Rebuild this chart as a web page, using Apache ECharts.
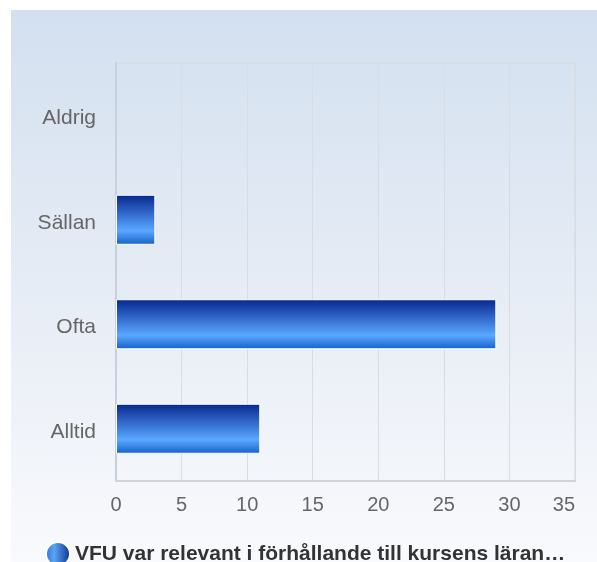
<!DOCTYPE html>
<html>
<head>
<meta charset="utf-8">
<script src="https://cdn.jsdelivr.net/npm/echarts@6/dist/echarts.min.js"></script>
<style>
html,body{margin:0;padding:0;background:#fff;overflow:hidden;}
#chart{position:absolute;left:11px;top:10px;width:586px;height:552px;}
</style>
</head>
<body>
<div id="chart"></div>
<script>
const categories = ['Aldrig', 'Sällan', 'Ofta', 'Alltid'];
const values = [0, 3, 29, 11];
const seriesName = 'VFU var relevant i förhållande till kursens läran…';
const xTicks = [0, 5, 10, 15, 20, 25, 30, 35];

const chart = echarts.init(document.getElementById('chart'));
chart.setOption({
  animation: false,
  backgroundColor: {
    type: 'linear', x: 0, y: 0, x2: 0, y2: 1,
    colorStops: [
      {offset: 0, color: '#d3e0f0'},
      {offset: 0.5, color: '#e6ecf5'},
      {offset: 1, color: '#f9fafd'}
    ]
  },
  grid: {
    left: 105, right: 22, top: 53, bottom: 81,
    show: true, borderColor: '#d4d8dc', borderWidth: 1,
    outerBoundsMode: 'none'
  },
  legend: {
    left: 34, top: 531, padding: 0,
    itemWidth: 24, itemHeight: 24, itemGap: 6,
    icon: 'circle',
    textStyle: {fontFamily: 'Liberation Sans, Arial, sans-serif', fontSize: 21, fontWeight: 'bold', color: '#333'},
    data: [{
      name: seriesName,
      itemStyle: {
        color: {type: 'linear', x: 0, y: 0, x2: 1, y2: 0,
          colorStops: [
            {offset: 0, color: '#2f6fd8'},
            {offset: 0.35, color: '#5aa5f5'},
            {offset: 1, color: '#0a2c8c'}
          ]}
      }
    }]
  },
  xAxis: {
    type: 'value', min: xTicks[0], max: xTicks[xTicks.length - 1], interval: 5,
    axisLine: {show: true, lineStyle: {color: '#d0d3d8', width: 2}},
    axisTick: {show: false},
    splitLine: {show: true, lineStyle: {color: '#d9dce0', width: 1}},
    axisLabel: {
      color: '#666', fontSize: 20, margin: 14,
      fontFamily: 'Liberation Sans, Arial, sans-serif',
      alignMaxLabel: 'right'
    }
  },
  yAxis: {
    type: 'category', data: categories, inverse: true,
    axisLine: {show: true, lineStyle: {color: '#c6d0de', width: 2}},
    axisTick: {show: false},
    splitLine: {show: false},
    axisLabel: {
      margin: 20,
      formatter: v => '{a|' + v + '}',
      rich: {a: {color: '#666', fontSize: 21, padding: [6, 0, 0, 0],
        fontFamily: 'Liberation Sans, Arial, sans-serif'}}
    }
  },
  series: [{
    name: seriesName,
    type: 'bar',
    data: values.map(v => v === 0 ? {value: v, itemStyle: {borderWidth: 0}} : v),
    barWidth: 50,
    itemStyle: {
      borderColor: '#ffffff', borderWidth: 1,
      color: {type: 'linear', x: 0, y: 0, x2: 0, y2: 1,
        colorStops: [
          {offset: 0, color: '#06278a'},
          {offset: 0.3, color: '#2a5bc0'},
          {offset: 0.72, color: '#5aa8ff'},
          {offset: 1, color: '#1460c8'}
        ]}
    }
  }]
});
</script>
</body>
</html>
